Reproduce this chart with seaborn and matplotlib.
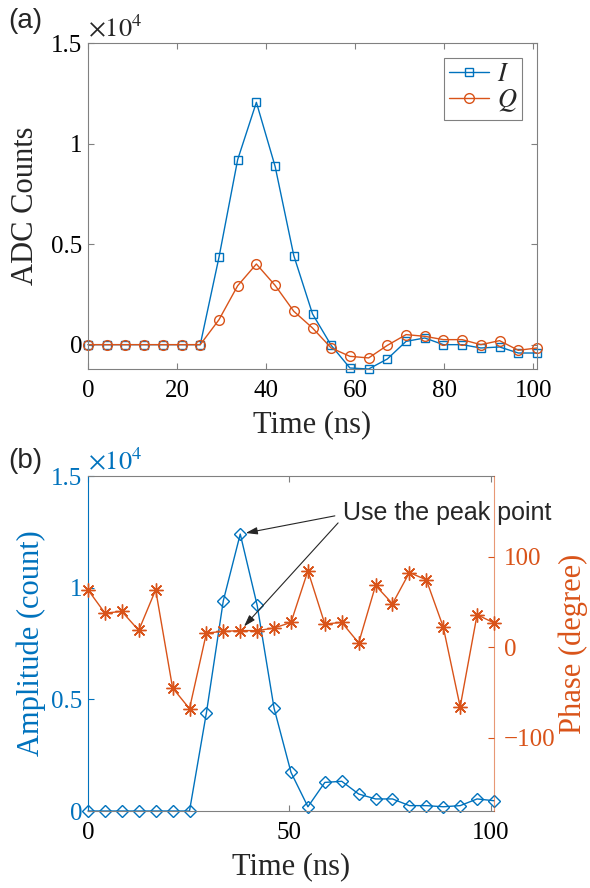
import matplotlib
matplotlib.use("Agg")
import matplotlib.pyplot as plt
import seaborn as sns

sns.set_style("ticks")
plt.rcParams['font.family'] = ['Liberation Serif', 'DejaVu Serif']
plt.rcParams['mathtext.fontset'] = 'stix'

BLUE = '#0072BD'
ORANGE = '#D95319'
GRAY = '0.5'

# sample times (ns)
time_ns = [0, 4.2, 8.4, 12.6, 16.8, 21.0, 25.2, 29.4, 33.6, 37.8, 42.0, 46.2, 50.4,
           54.6, 58.8, 63.0, 67.2, 71.4, 75.6, 79.8, 84.0, 88.2, 92.4, 96.6, 100.8]

# (a) raw ADC counts
i_counts = [0, 0, 0, 0, 0, 0, 0, 4340, 9200, 12050, 8870, 4430, 1530,
            -35, -1160, -1210, -712, 164, 333, 0, 0, -165, -115, -415, -415]
q_counts = [0, 0, 0, 0, 0, 0, 0, 1240, 2930, 4010, 2950, 1660, 830,
            -165, -580, -660, -35, 500, 415, 250, 250, 0, 200, -280, -165]

# (b) amplitude and phase
amplitude = [0, 0, 0, 0, 0, 0, 0, 4400, 9420, 12400, 9210, 4600, 1730,
             190, 1280, 1330, 760, 540, 540, 240, 240, 190, 240, 540, 460]
phase_deg = [63.3, 37.6, 39.4, 18.5, 63.3, -45, -68, 15.6, 17.4, 18.3, 18.2, 21.1, 27.3,
             84.3, 25.5, 27.3, 4.6, 68.1, 47.9, 82.4, 74.3, 22.2, -65.9, 35.8, 26.7]

count_ticks = [0, 5000, 10000, 15000]
count_labels = ['0', '0.5', '1', '1.5']
peak = amplitude.index(max(amplitude))

TICK = 18
LABEL = 22

fig = plt.figure(figsize=(5.9, 8.88), dpi=100)
W, H = 590, 888
axA = fig.add_axes([88 / W, 1 - 369 / H, 449 / W, 326 / H])
axB = fig.add_axes([88 / W, 1 - 811 / H, 406 / W, 335 / H])

# ---- panel (a)
sns.lineplot(x=time_ns, y=i_counts, ax=axA, color=BLUE, linewidth=1, marker='s',
             markersize=6, markerfacecolor='none', markeredgecolor=BLUE,
             markeredgewidth=1, label='$I$', clip_on=False)
sns.lineplot(x=time_ns, y=q_counts, ax=axA, color=ORANGE, linewidth=1, marker='o',
             markersize=7, markerfacecolor='none', markeredgecolor=ORANGE,
             markeredgewidth=1, label='$Q$', clip_on=False)
axA.set_xlim(0, time_ns[-1])
axA.set_ylim(min(i_counts), 15000)
axA.set_xticks([0, 20, 40, 60, 80, 100])
axA.set_yticks(count_ticks, count_labels)
axA.tick_params(direction='in', top=True, right=True, length=4, width=0.8,
                color=GRAY, labelsize=TICK, labelcolor='black')
axA.tick_params(axis='x', pad=8)
axA.tick_params(axis='y', pad=4)
for s in axA.spines.values():
    s.set_color(GRAY)
    s.set_linewidth(0.8)
axA.set_xlabel('Time (ns)', fontsize=LABEL, labelpad=6)
axA.set_ylabel('ADC Counts', fontsize=LABEL, labelpad=8)
axA.text(0, 1.005, r'$\times10^4$', transform=axA.transAxes, ha='left', va='bottom',
         fontsize=19)
leg = axA.legend(loc='upper right', fontsize=19, frameon=True, fancybox=False,
                 edgecolor=GRAY, framealpha=1, handlelength=1.5, handletextpad=0.3,
                 borderpad=0.2, labelspacing=0.05, borderaxespad=0.55)
leg.get_frame().set_linewidth(0.8)

# ---- panel (b)
axP = axB.twinx()
sns.lineplot(x=time_ns, y=amplitude, ax=axB, color=BLUE, linewidth=1, marker='D',
             markersize=6.5, markerfacecolor='none', markeredgecolor=BLUE,
             markeredgewidth=1, clip_on=False)
sns.lineplot(x=time_ns, y=phase_deg, ax=axP, color=ORANGE, linewidth=1,
             marker=(8, 2, 0), markersize=10, markeredgecolor=ORANGE,
             markeredgewidth=1, clip_on=False)
axB.set_xlim(0, time_ns[-1])
axB.set_ylim(0, 15000)
axP.set_ylim(-181, 189)
axB.set_xticks([0, 50, 100])
axB.set_yticks(count_ticks, count_labels)
axP.set_yticks([-100, 0, 100], ['\u2212100', '0', '100'])
axB.tick_params(axis='x', direction='in', top=True, length=4, width=0.8, color=GRAY,
                labelsize=TICK, labelcolor='black', pad=8)
axB.tick_params(axis='y', direction='in', length=4, width=0.8, color=BLUE,
                labelsize=TICK, labelcolor=BLUE, pad=4)
axP.tick_params(axis='y', direction='in', length=4, width=0.8, color=ORANGE,
                labelsize=TICK, labelcolor=ORANGE, pad=7)
for name in ['top', 'bottom']:
    axB.spines[name].set_color(GRAY)
    axB.spines[name].set_linewidth(0.8)
    axP.spines[name].set_visible(False)
axB.spines['left'].set_color(BLUE)
axB.spines['left'].set_linewidth(0.8)
axB.spines['right'].set_visible(False)
axP.spines['left'].set_visible(False)
axP.spines['right'].set_color(ORANGE)
axP.spines['right'].set_linewidth(0.8)
axP.spines['right'].set_alpha(0.6)
axB.set_xlabel('Time (ns)', fontsize=LABEL, labelpad=6)
axB.set_ylabel('Amplitude (count)', fontsize=LABEL, color=BLUE, labelpad=4)
axP.set_ylabel('Phase (degree)', fontsize=LABEL, color=ORANGE, labelpad=2)
axB.text(0, 1.005, r'$\times10^4$', transform=axB.transAxes, ha='left', va='bottom',
         fontsize=19, color=BLUE)

# annotation
axP.text(0.628, 0.89, 'Use the peak point', transform=axB.transAxes, ha='left',
         va='center', fontsize=18, family=['Liberation Sans', 'DejaVu Sans'])
arrow = dict(arrowstyle='-|>,head_length=0.7,head_width=0.22', color='0.15', lw=0.8,
             shrinkA=0, shrinkB=4)
axP.annotate('', xy=(time_ns[peak], amplitude[peak]), xycoords=axB.transData,
             xytext=(0.608, 0.881), textcoords=axB.transAxes, arrowprops=arrow)
axP.annotate('', xy=(time_ns[peak], phase_deg[peak]), xycoords=axP.transData,
             xytext=(0.616, 0.860), textcoords=axB.transAxes, arrowprops=arrow)

fig.text(8 / W, 1 - 21 / H, '(a)', fontsize=20, va='center',
         family=['Liberation Sans', 'DejaVu Sans'])
fig.text(8 / W, 1 - 461 / H, '(b)', fontsize=20, va='center',
         family=['Liberation Sans', 'DejaVu Sans'])

fig.savefig('out.png', dpi=100)
